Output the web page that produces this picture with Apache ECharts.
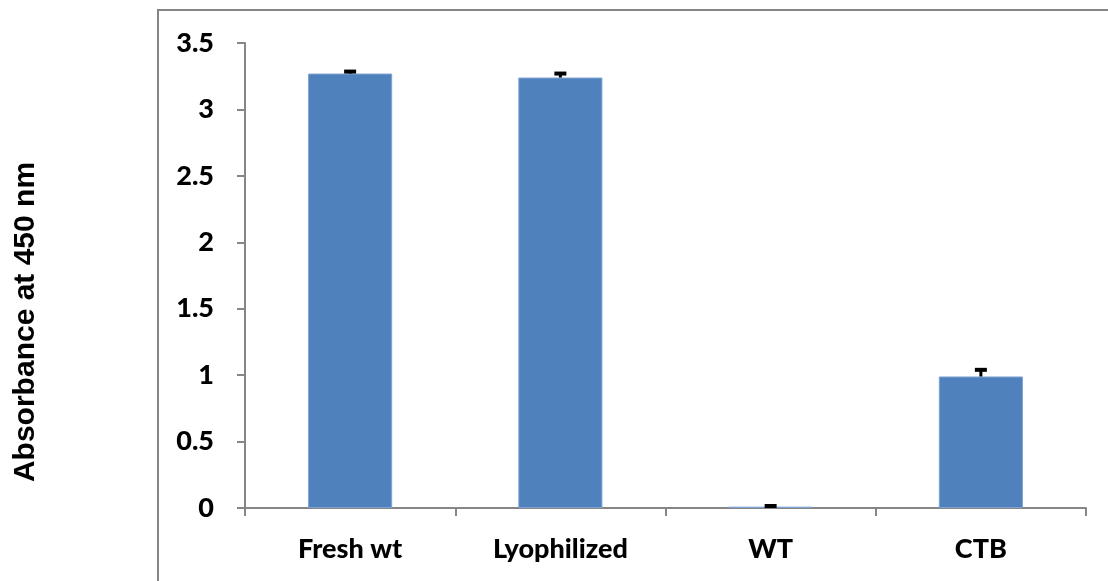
<!DOCTYPE html>
<html>
<head>
<meta charset="utf-8">
<script src="https://cdn.jsdelivr.net/npm/echarts@6/dist/echarts.min.js"></script>
<style>
  html, body { margin: 0; padding: 0; background: #fff; }
  #chart { width: 1108px; height: 581px; }
</style>
</head>
<body>
<div id="chart"></div>
<script>
// Absorbance readings (450 nm) per sample, with standard-error bars
const categories = ['Fresh wt', 'Lyophilized', 'WT', 'CTB'];
const absorbance = [3.27, 3.24, 0.01, 0.99];
const errors = [0.015, 0.03, 0.005, 0.05];
const yTicks = { min: 0, max: 3.5, interval: 0.5 };

const axisGray = '#868686';
const labelFont = 'Lato, "Open Sans", sans-serif';

const chart = echarts.init(document.getElementById('chart'));

const errorData = absorbance.map((v, i) => [i, v, errors[i]]);

chart.setOption({
  animation: false,
  grid: { left: 245, right: 22, top: 43, bottom: 73, containLabel: false },
  graphic: [
    {
      type: 'rect',
      shape: { x: 158, y: 10, width: 1000, height: 620 },
      style: { fill: 'none', stroke: axisGray, lineWidth: 2 },
      silent: true,
      z: -1
    },
    {
      type: 'text',
      x: 26,
      y: 322,
      rotation: Math.PI / 2,
      style: {
        text: 'Absorbance at 450 nm',
        font: 'bold 30px "Liberation Sans", Arial, sans-serif',
        fill: '#000',
        align: 'center',
        verticalAlign: 'middle'
      }
    }
  ],
  xAxis: {
    type: 'category',
    data: categories,
    axisLine: { show: true, lineStyle: { color: axisGray, width: 2 } },
    axisTick: { show: true, length: 8, alignWithLabel: false, lineStyle: { color: axisGray, width: 2 } },
    axisLabel: {
      color: '#000',
      fontFamily: labelFont,
      fontWeight: 900,
      fontSize: 27,
      margin: 28
    },
    splitLine: { show: false }
  },
  yAxis: {
    type: 'value',
    min: yTicks.min,
    max: yTicks.max,
    interval: yTicks.interval,
    axisLine: { show: true, lineStyle: { color: axisGray, width: 2 } },
    axisTick: { show: true, length: 8, lineStyle: { color: axisGray, width: 2 } },
    axisLabel: {
      color: '#000',
      fontFamily: labelFont,
      fontWeight: 900,
      fontSize: 27,
      margin: 31
    },
    splitLine: { show: false }
  },
  series: [
    {
      type: 'bar',
      data: absorbance,
      barWidth: '40%',
      itemStyle: { color: '#4f81bd', borderColor: '#7fa3d4', borderWidth: 1 }
    },
    {
      type: 'custom',
      data: errorData,
      z: 5,
      renderItem: function (params, api) {
        const idx = api.value(0);
        const v = api.value(1);
        const e = api.value(2);
        const top = api.coord([idx, v + e]);
        const base = api.coord([idx, v]);
        const half = 6;
        return {
          type: 'group',
          children: [
            {
              type: 'line',
              shape: { x1: top[0], y1: top[1], x2: base[0], y2: base[1] },
              style: { stroke: '#000', lineWidth: 3 }
            },
            {
              type: 'line',
              shape: { x1: top[0] - half, y1: top[1], x2: top[0] + half, y2: top[1] },
              style: { stroke: '#000', lineWidth: 4 }
            }
          ]
        };
      }
    }
  ]
});
</script>
</body>
</html>
